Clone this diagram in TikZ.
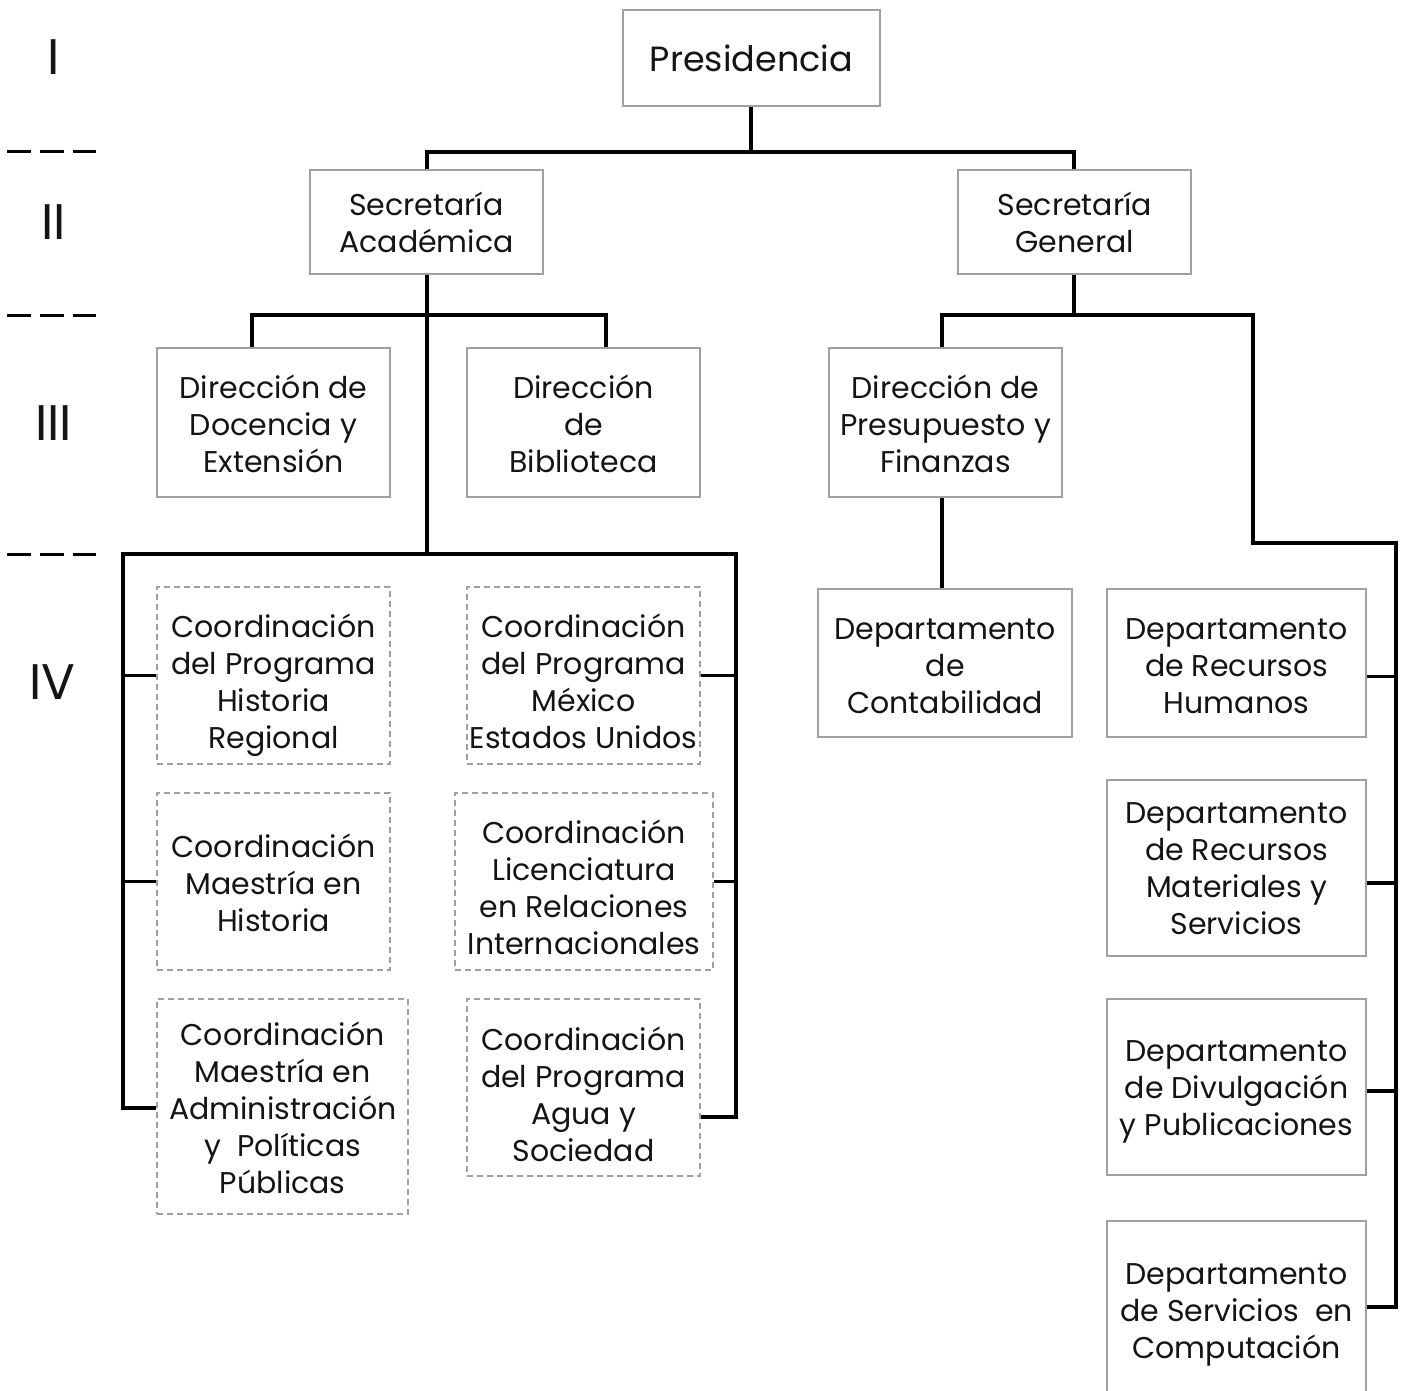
\documentclass[tikz,border=0pt]{standalone}
\usepackage{fontspec}
\setmainfont{Poppins}
\definecolor{boxgray}{RGB}{160,160,160}
\definecolor{textcol}{RGB}{20,20,20}
\newcommand{\boxfont}{\fontsize{30}{37}\selectfont}
\newcommand{\presfont}{\fontsize{35}{40}\selectfont}
\newcommand{\lvlfont}{\fontsize{50}{50}\selectfont}
\newcommand{\fl}[1]{\rule{0pt}{#1pt}}
\newcommand{\lst}{\rule[-9pt]{0pt}{9pt}}
\tikzset{
  box/.style={draw=boxgray, line width=1.6pt, inner sep=0pt, align=center, font=\boxfont, text=textcol},
  cbox/.style={box, dash pattern=on 6pt off 4pt},
  sz/.style 2 args={minimum width=#1, minimum height=#2},
  conn/.style={line width=3.3pt, draw=black},
  lvl/.style={font=\lvlfont, text=textcol, inner sep=0pt},
  lvldash/.style={line width=3pt, dash pattern=on 24pt off 9pt}
}
\begin{document}
\begin{tikzpicture}[x=1pt, y=-1pt]
\useasboundingbox (0,0) rectangle (1402,1391);

% level labels
\node[lvl] (l1) at (53.6,57.5) {I};
\node[lvl] (l2) at (53.6,222) {II};
\node[lvl] (l3) at (53.6,423) {III};
\node[lvl] (l4) at (52.5,682) {IV};
\draw[lvldash] (7,152) -- (96,152);
\draw[lvldash] (7,315) -- (96,315);
\draw[lvldash] (7,554) -- (96,554);

% boxes
\node[box, font=\presfont, sz={257}{96}] (pres) at (751.5,58) {\fl{35.5}\lst Presidencia};
\node[box, sz={233}{104}] (sa) at (426.5,222) {\fl{33}Secretaría\\\lst Académica};
\node[box, sz={233}{104}] (sg) at (1074.75,222) {\fl{33}Secretaría\\\lst General};
\node[box, sz={233}{149}] (ddoc) at (273.5,422.5) {\fl{35}Dirección de\\Docencia y\\\lst Extensión};
\node[box, sz={233}{149}] (dbib) at (583.5,422.5) {\fl{35}Dirección\\de\\\lst Biblioteca};
\node[box, sz={233}{149}] (dpf) at (945.5,422.5) {\fl{35}Dirección de\\Presupuesto y\\\lst Finanzas};

\node[cbox, sz={233}{177}] (hr) at (273.5,675.75) {\fl{44}Coordinación\\del Programa\\Historia\\\lst Regional};
\node[cbox, sz={233}{177}] (meu) at (583.5,675.75) {\fl{44}Coordinación\\del Programa\\México\\\lst Estados Unidos};
\node[cbox, sz={233}{177}] (mh) at (273.5,881.75) {\fl{33.7}Coordinación\\Maestría en\\\lst Historia};
\node[cbox, sz={258}{177}] (lri) at (584,881.75) {\fl{44}Coordinación\\Licenciatura\\en Relaciones\\\lst Internacionales};
\node[cbox, sz={251}{215}] (mapp) at (282.75,1106.5) {\fl{35}Coordinación\\Maestría en\\Administración\\y\ \ Políticas\\\lst Públicas};
\node[cbox, sz={233}{177}] (ays) at (583.5,1087.5) {\fl{46}Coordinación\\del Programa\\Agua y\\\lst Sociedad};

\node[box, sz={254}{148}] (cont) at (945.25,662.75) {\fl{35.5}Departamento\\de\\\lst Contabilidad};
\node[box, sz={259}{148}] (rh) at (1236.5,662.75) {\fl{35.5}Departamento\\de Recursos\\\lst Humanos};
\node[box, sz={259}{176}] (rms) at (1236.5,867.8) {\fl{31.4}Departamento\\de Recursos\\Materiales y\\\lst Servicios};
\node[box, sz={259}{176}] (dp) at (1236.5,1087.25) {\fl{31}Departamento\\de Divulgación\\\lst y Publicaciones};
\node[box, sz={259}{174}] (sc) at (1236.5,1308) {\fl{35}Departamento\\de Servicios\ \ en\\\lst Computación};

% junction coordinates
\coordinate (b1) at (751,152);
\coordinate (b1l) at (427,152);
\coordinate (b1r) at (1074,152);
\coordinate (j3) at (427,315);
\coordinate (j3l) at (252,315);
\coordinate (j3r) at (606,315);
\coordinate (s4) at (427,554);
\coordinate (l4) at (123,554);
\coordinate (r4) at (736,554);
\coordinate (l4end) at (123,1108);
\coordinate (r4end) at (736,1117);
\coordinate (g3) at (1074,315);
\coordinate (g3l) at (942,315);
\coordinate (g3r) at (1253,315);
\coordinate (rr1) at (1253,543);
\coordinate (rr2) at (1396,543);
\coordinate (yrh) at (1396,676.6);
\coordinate (yrms) at (1396,883);
\coordinate (ydp) at (1396,1091);
\coordinate (ysc) at (1396,1307);

% connectors
\draw[conn] (pres.south -| b1) -- (b1);
\draw[conn] (sa.north -| b1l) -- (b1l) -- (b1r) -- (sg.north -| b1r);
\draw[conn] (sa.south -| j3) -- (s4);
\draw[conn] (ddoc.north -| j3l) -- (j3l) -- (j3r) -- (dbib.north -| j3r);
\draw[conn] (mapp.west |- l4end) -- (l4end) -- (l4) -- (r4) -- (r4end) -- (ays.east |- r4end);
\draw[conn] (hr.west) -- (hr.west -| l4);
\draw[conn] (mh.west) -- (mh.west -| l4);
\draw[conn] (meu.east) -- (meu.east -| r4);
\draw[conn] (lri.east) -- (lri.east -| r4);

\draw[conn] (sg.south -| g3) -- (g3);
\draw[conn] (dpf.north -| g3l) -- (g3l) -- (g3r) -- (rr1) -- (rr2) -- (ysc) -- (sc.east |- ysc);
\draw[conn] (dpf.south -| g3l) -- (cont.north -| g3l);
\draw[conn] (rh.east |- yrh) -- (yrh);
\draw[conn] (rms.east |- yrms) -- (yrms);
\draw[conn] (dp.east |- ydp) -- (ydp);
\end{tikzpicture}
\end{document}
